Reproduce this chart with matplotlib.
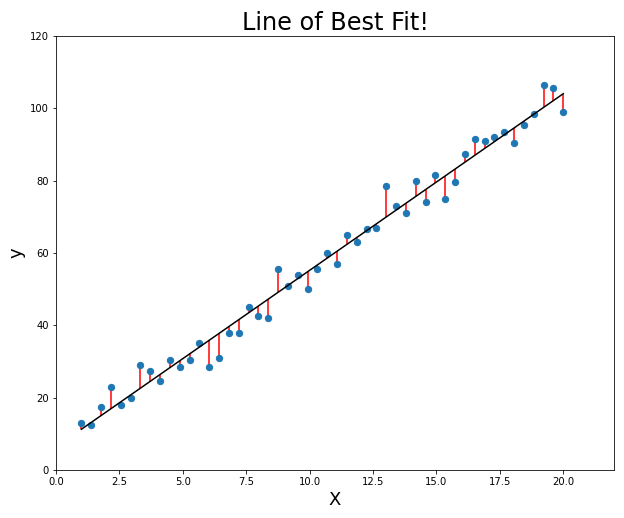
import numpy as np
import matplotlib
matplotlib.use("Agg")
import matplotlib.pyplot as plt

x = np.linspace(1, 20, 50)
y = np.array([13, 12.5, 17.5, 23, 18, 20, 29, 27.5, 24.5, 30.5,
              28.5, 30.5, 35, 28.5, 31, 38, 38, 45, 42.5, 42,
              55.5, 51, 54, 50, 55.5, 60, 57, 65, 63, 66.5,
              67, 78.5, 73, 71, 80, 74, 81.5, 75, 79.5, 87.5,
              91.5, 91, 92, 93.5, 90.5, 95.5, 98.5, 106.5, 105.5, 99])

m, b = np.polyfit(x, y, 1)
fit = m * x + b

fig = plt.figure(figsize=(624/72, 518/72), dpi=72)
ax = fig.add_axes([56/624, 48/518, 558/624, 434/518])
ax.vlines(x, fit, y, colors='red', zorder=1)
ax.scatter(x, y, s=40, color='#1f77b4', zorder=2)
ax.plot(x, fit, color='black', zorder=3)
ax.set_xlim(0, 22.0)
ax.set_ylim(0, 120)
ax.set_title("Line of Best Fit!", fontsize=24)
ax.set_xlabel("X", fontsize=18)
ax.set_ylabel("y", fontsize=18)
fig.savefig("out.png", dpi=72)
